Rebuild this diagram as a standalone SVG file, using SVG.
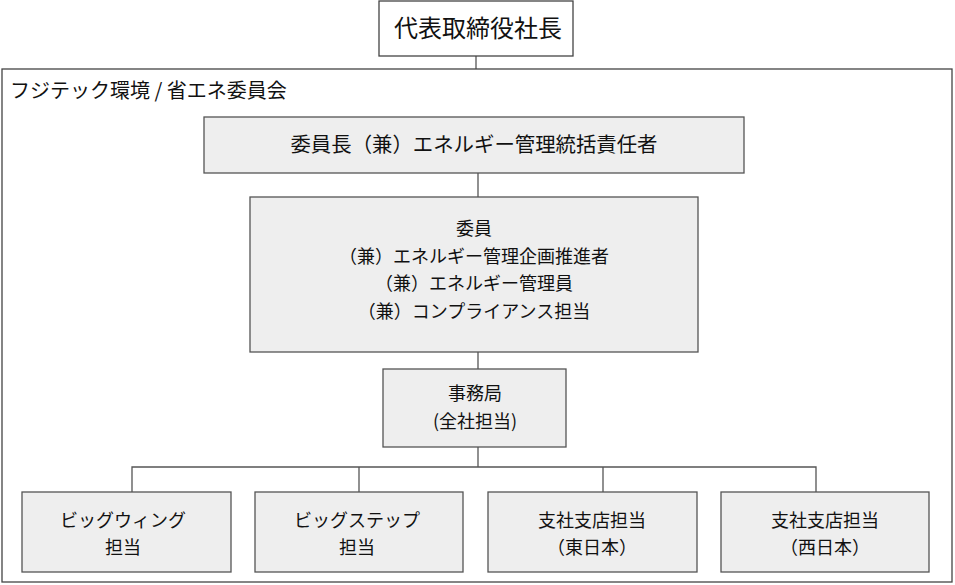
<svg xmlns="http://www.w3.org/2000/svg" width="955" height="585" viewBox="0 0 955 585">
<style>
text{font-family:"Noto Sans CJK JP","Noto Sans",sans-serif;fill:#111;text-anchor:middle}
.box{fill:#eeeeee;stroke:#555;stroke-width:1.3}
.wbox{fill:#fff;stroke:#444;stroke-width:1.3}
.frame{fill:none;stroke:#444;stroke-width:1.3}
.ln{fill:none;stroke:#555;stroke-width:1.3}
.t17{font-size:18px}
</style>
<rect width="955" height="585" fill="#fff"/>
<g id="connectors">
<line class="ln" x1="476" y1="56" x2="476" y2="69"/>
<line class="ln" x1="478" y1="173" x2="478" y2="197"/>
<line class="ln" x1="478" y1="352" x2="478" y2="369"/>
<line class="ln" x1="478" y1="447" x2="478" y2="467"/>
<polyline class="ln" points="132,492 132,467 816,467 816,492"/>
<line class="ln" x1="359" y1="467" x2="359" y2="492"/>
<line class="ln" x1="603" y1="467" x2="603" y2="492"/>
</g>
<g id="president">
<rect class="wbox" x="379" y="1" width="194" height="55"/>
<text x="478" y="37" style="font-size:24px">代表取締役社長</text>
</g>
<g id="committee">
<rect class="frame" x="2" y="69" width="950" height="513"/>
<text x="10" y="98" style="font-size:20px;text-anchor:start">フジテック環境 / 省エネ委員会</text>
</g>
<g id="chair">
<rect class="box" x="204" y="117" width="540" height="56"/>
<text x="474" y="152" style="font-size:20.4px">委員長（兼）エネルギー管理統括責任者</text>
</g>
<g id="members">
<rect class="box" x="250" y="197" width="448" height="155"/>
<text class="t17" x="474" y="235">委員</text>
<text class="t17" x="474" y="263">（兼）エネルギー管理企画推進者</text>
<text class="t17" x="474" y="290">（兼）エネルギー管理員</text>
<text class="t17" x="474" y="318">（兼）コンプライアンス担当</text>
</g>
<g id="secretariat">
<rect class="box" x="383" y="369" width="183" height="78"/>
<text class="t17" x="475" y="400">事務局</text>
<text class="t17" x="475" y="428">(全社担当)</text>
</g>
<g id="bigwing">
<rect class="box" x="22" y="492" width="209" height="80"/>
<text class="t17" x="123" y="527">ビッグウィング</text>
<text class="t17" x="123" y="554">担当</text>
</g>
<g id="bigstep">
<rect class="box" x="255" y="492" width="208" height="80"/>
<text class="t17" x="357" y="527">ビッグステップ</text>
<text class="t17" x="357" y="554">担当</text>
</g>
<g id="east">
<rect class="box" x="488" y="492" width="209" height="80"/>
<text class="t17" x="592" y="527">支社支店担当</text>
<text class="t17" x="592" y="554">（東日本）</text>
</g>
<g id="west">
<rect class="box" x="721" y="492" width="208" height="80"/>
<text class="t17" x="825" y="527">支社支店担当</text>
<text class="t17" x="825" y="554">（西日本）</text>
</g>
</svg>
